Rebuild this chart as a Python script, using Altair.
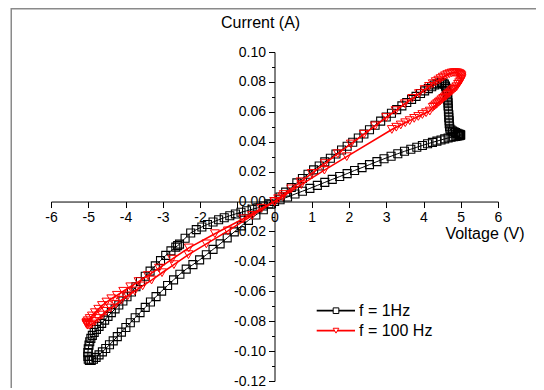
import altair as alt
import pandas as pd

# ---------------- data (V, I) ----------------
# f = 1 Hz
b_up_pos = [(0, 0), (0.15, 0.003), (0.3, 0.0063), (0.45, 0.0094), (0.6, 0.0125), (0.75, 0.0154),
            (0.9, 0.0183), (1.05, 0.0212), (1.2, 0.0238), (1.35, 0.0265), (1.5, 0.029), (1.65, 0.0318),
            (1.8, 0.0345), (1.95, 0.037), (2.1, 0.0397), (2.25, 0.0425), (2.4, 0.0452), (2.55, 0.048),
            (2.7, 0.051), (2.85, 0.0538), (3.0, 0.0565), (3.14, 0.059), (3.28, 0.0615), (3.42, 0.064),
            (3.55, 0.0662), (3.68, 0.0683), (3.8, 0.0703), (3.92, 0.0722), (4.03, 0.074), (4.13, 0.0755),
            (4.22, 0.0768), (4.3, 0.0779), (4.37, 0.0787), (4.43, 0.0793), (4.48, 0.0795)]
b_drop = [(4.52, 0.0793), (4.56, 0.0785), (4.59, 0.0772), (4.61, 0.0757), (4.63, 0.074), (4.64, 0.072),
          (4.65, 0.070), (4.65, 0.068), (4.66, 0.066), (4.66, 0.064), (4.67, 0.062), (4.67, 0.060),
          (4.68, 0.058), (4.68, 0.056), (4.69, 0.054), (4.69, 0.052), (4.70, 0.050), (4.71, 0.0485),
          (4.74, 0.0478), (4.78, 0.0472), (4.82, 0.0466), (4.86, 0.0461), (4.9, 0.0456), (4.94, 0.0452),
          (4.97, 0.0449), (4.99, 0.0447), (5.0, 0.0445)]
b_low_pos = [(4.99, 0.0443), (4.96, 0.0441), (4.92, 0.0439), (4.87, 0.0436), (4.81, 0.0433), (4.74, 0.043),
             (4.66, 0.0425), (4.57, 0.0419), (4.47, 0.0412), (4.36, 0.0404), (4.24, 0.0396), (4.11, 0.0386),
             (3.97, 0.0375), (3.82, 0.0363), (3.66, 0.035), (3.49, 0.0336), (3.31, 0.032), (3.13, 0.0303),
             (2.94, 0.0286), (2.75, 0.0267), (2.55, 0.0247), (2.35, 0.0227), (2.15, 0.0208), (1.95, 0.0187),
             (1.75, 0.0167), (1.55, 0.0148), (1.35, 0.0128), (1.15, 0.0108), (0.95, 0.0088), (0.75, 0.0069),
             (0.55, 0.005), (0.35, 0.003), (0.15, 0.0012), (0, 0)]
b_up_neg = [(-0.15, -0.0015), (-0.3, -0.003), (-0.45, -0.0042), (-0.6, -0.0052), (-0.75, -0.0062),
            (-0.9, -0.0072), (-1.05, -0.0083), (-1.2, -0.0095), (-1.35, -0.0108), (-1.5, -0.0122),
            (-1.65, -0.0137), (-1.8, -0.0153), (-1.95, -0.017), (-2.1, -0.0188), (-2.25, -0.021),
            (-2.4, -0.0245), (-2.55, -0.0285), (-2.6, -0.0295), (-2.65, -0.0305), (-2.78, -0.033),
            (-2.92, -0.036), (-3.06, -0.0395), (-3.2, -0.043), (-3.34, -0.0465), (-3.47, -0.05),
            (-3.6, -0.0535), (-3.72, -0.057), (-3.84, -0.0605), (-3.96, -0.0637), (-4.07, -0.0665),
            (-4.18, -0.0692), (-4.28, -0.0718), (-4.38, -0.0743), (-4.47, -0.0768), (-4.56, -0.0793),
            (-4.64, -0.0815), (-4.71, -0.0835), (-4.78, -0.0855), (-4.84, -0.0875), (-4.89, -0.0895),
            (-4.93, -0.0915), (-4.96, -0.0938), (-4.98, -0.096), (-5.0, -0.0985), (-5.01, -0.101),
            (-5.01, -0.1035), (-5.0, -0.1055)]
b_low_neg = [(-4.97, -0.1062), (-4.92, -0.1062), (-4.86, -0.1055), (-4.79, -0.1042), (-4.71, -0.1025),
             (-4.62, -0.1005), (-4.53, -0.0983), (-4.43, -0.0958), (-4.33, -0.0932), (-4.22, -0.0903),
             (-4.11, -0.0873), (-3.99, -0.0842), (-3.87, -0.081), (-3.74, -0.0777), (-3.61, -0.0743),
             (-3.47, -0.0708), (-3.33, -0.0672), (-3.18, -0.0636), (-3.03, -0.0599), (-2.87, -0.0561),
             (-2.71, -0.0524), (-2.54, -0.0486), (-2.37, -0.0452), (-2.19, -0.0422), (-2.01, -0.039),
             (-1.83, -0.0356), (-1.65, -0.032), (-1.46, -0.0283), (-1.27, -0.0243), (-1.08, -0.0203),
             (-0.89, -0.0163), (-0.7, -0.0126), (-0.5, -0.009), (-0.3, -0.0055), (-0.1, -0.0018), (0, 0)]

# f = 100 Hz
r_up_pos = [(0, 0), (0.1, 0.0019), (0.25, 0.0047), (0.45, 0.0085), (0.7, 0.0132), (1.0, 0.0188),
            (1.35, 0.0254), (1.7, 0.032), (2.05, 0.0385), (2.4, 0.045), (2.7, 0.0506), (3.0, 0.0562),
            (3.25, 0.0608), (3.5, 0.0654), (3.7, 0.069), (3.88, 0.0722), (4.03, 0.0749), (4.15, 0.077),
            (4.25, 0.0788), (4.33, 0.0802)]
r_arc = [(4.4, 0.0812), (4.46, 0.0822), (4.52, 0.0832), (4.58, 0.0841), (4.64, 0.0849), (4.7, 0.0855),
         (4.76, 0.086), (4.82, 0.0862), (4.87, 0.0862), (4.92, 0.086), (4.96, 0.0856), (4.99, 0.085),
         (5.01, 0.0843), (5.02, 0.0835), (5.02, 0.0826), (5.01, 0.0816), (4.99, 0.0806), (4.96, 0.0795),
         (4.93, 0.0784)]
r_band = [(4.89, 0.0768), (4.85, 0.0759), (4.81, 0.075), (4.77, 0.0742), (4.73, 0.0733), (4.69, 0.0724),
          (4.65, 0.0716), (4.61, 0.0707), (4.57, 0.0698), (4.53, 0.069), (4.49, 0.0681), (4.45, 0.0672),
          (4.41, 0.0664), (4.37, 0.0655), (4.33, 0.0647), (4.29, 0.0638), (4.25, 0.063)]
r_low_pos = [(4.17, 0.0605), (4.07, 0.0594), (3.97, 0.0582), (3.86, 0.0569), (3.75, 0.0556), (3.63, 0.0541),
             (3.51, 0.0527), (3.39, 0.0512), (3.27, 0.0497), (3.15, 0.0482), (1.94, 0.030), (1.34, 0.021),
             (0.72, 0.0113), (0.22, 0.0033), (0, 0)]
r_up_neg = [(-0.35, -0.0045), (-0.84, -0.0115), (-1.6, -0.0215), (-2.3, -0.031), (-2.75, -0.0385),
            (-3.1, -0.0445), (-3.4, -0.0495), (-3.65, -0.0535), (-3.87, -0.057), (-4.06, -0.06),
            (-4.23, -0.0627), (-4.38, -0.065), (-4.51, -0.0672), (-4.63, -0.0695), (-4.73, -0.072),
            (-4.82, -0.0743), (-4.9, -0.0765), (-4.96, -0.0782), (-5.01, -0.0797), (-5.04, -0.0807),
            (-5.05, -0.0815)]
r_low_neg = [(-5.04, -0.0822), (-5.01, -0.0827), (-4.96, -0.0826), (-4.9, -0.0819), (-4.82, -0.0802),
             (-4.73, -0.0782), (-4.63, -0.0759), (-4.52, -0.0734), (-4.4, -0.0712), (-4.26, -0.0687),
             (-4.11, -0.066), (-3.94, -0.063), (-3.75, -0.0598), (-3.54, -0.0564), (-3.3, -0.0525),
             (-3.02, -0.0476), (-2.7, -0.0422), (-2.31, -0.0355), (-1.83, -0.0283), (-1.25, -0.0196),
             (-0.6, -0.0093), (0, 0)]

series_names = ["f = 1Hz", "f = 100 Hz"]
series_colors = ["#000000", "#ff0000"]
series_shapes = ["square", "triangle-down"]

x_ticks = [-6, -5.5, -5, -4.5, -4, -3.5, -3, -2.5, -2, -1.5, -1, -0.5, 0,
           0.5, 1, 1.5, 2, 2.5, 3, 3.5, 4, 4.5, 5, 5.5, 6]
y_ticks = [-0.12, -0.11, -0.10, -0.09, -0.08, -0.07, -0.06, -0.05, -0.04, -0.03, -0.02, -0.01,
           0.0, 0.01, 0.02, 0.03, 0.04, 0.05, 0.06, 0.07, 0.08, 0.09, 0.10]
x_title = "Voltage (V)"
y_title = "Current (A)"

# ---------------- layout ----------------
W, H = 528, 380
X_DOM, Y_DOM = [-6, 6], [-0.12, 0.10]
X_RANGE = [43, 490]
Y_RANGE = [373, 44]
X0 = X_RANGE[0] + (0 - X_DOM[0]) / (X_DOM[1] - X_DOM[0]) * (X_RANGE[1] - X_RANGE[0])
Y0 = Y_RANGE[0] - (0 - Y_DOM[0]) / (Y_DOM[1] - Y_DOM[0]) * (Y_RANGE[0] - Y_RANGE[1])
FONT = "Liberation Sans"


def frame(pts):
    return pd.DataFrame({"V": [p[0] for p in pts], "I": [p[1] for p in pts], "k": list(range(len(pts)))})


df_1hz = frame(b_up_pos + b_drop + b_low_pos + b_up_neg + b_low_neg)
df_100hz = frame(r_up_pos + r_arc + r_band + r_low_pos + r_up_neg + r_low_neg)

x_axis = alt.Axis(
    orient="bottom", offset=Y0 - H, values=x_ticks, title=None, grid=False,
    domainColor="black", domainWidth=1, tickColor="black", tickWidth=1,
    tickSize={"condition": {"test": "datum.value % 1 == 0", "value": 6}, "value": 3},
    format="d",
    labelExpr="datum.value % 1 == 0 ? replace(datum.label, '\u2212', '-') : ''",
    labelFont=FONT, labelFontSize=14, labelColor="black", labelPadding=3,
    labelFlush=False, labelOverlap=False, labelBound=False,
)
y_axis = alt.Axis(
    orient="left", offset=-X0, values=y_ticks, title=None, grid=False,
    domainColor="black", domainWidth=1, tickColor="black", tickWidth=1,
    tickSize={"condition": {"test": "abs(round(datum.value*100)) % 2 == 0", "value": 6}, "value": 3},
    format=".2f",
    labelExpr="abs(round(datum.value*100)) % 2 == 0 ? replace(datum.label, '\u2212', '-') : ''",
    labelFont=FONT, labelFontSize=14, labelColor="black", labelPadding=3,
    labelFlush=False, labelOverlap=False, labelBound=False,
)
xenc = alt.X("V:Q", scale=alt.Scale(domain=X_DOM, range=X_RANGE, nice=False, zero=False), axis=x_axis)
yenc = alt.Y("I:Q", scale=alt.Scale(domain=Y_DOM, range=Y_RANGE, nice=False, zero=False), axis=y_axis)

layers = []
one = pd.DataFrame({"a": [0]})
# outer frame (top and left edges visible)
layers.append(alt.Chart(one).mark_rule(color="#8a8a8a", strokeWidth=1.5).encode(
    x=alt.value(3), x2=alt.value(W), y=alt.value(0.75)))
layers.append(alt.Chart(one).mark_rule(color="#8a8a8a", strokeWidth=1.5).encode(
    x=alt.value(3.25), y=alt.value(0), y2=alt.value(H)))

for df, col, shp, lw, sz, sw in [(df_1hz, series_colors[0], series_shapes[0], 1, 64, 1.1),
                                 (df_100hz, series_colors[1], series_shapes[1], 1.6, 80, 1)]:
    layers.append(alt.Chart(df).mark_line(color=col, strokeWidth=lw).encode(
        x=xenc, y=yenc, order="k:Q"))
    layers.append(alt.Chart(df).mark_point(shape=shp, filled=False, color=col, size=sz,
                                           strokeWidth=sw, opacity=1).encode(x=xenc, y=yenc))

# axis titles
layers.append(alt.Chart(one).mark_text(font=FONT, fontSize=16, align="center", baseline="middle",
                                       color="black").encode(
    x=alt.value(252.6), y=alt.value(15.3), text=alt.value(y_title)))
layers.append(alt.Chart(one).mark_text(font=FONT, fontSize=16, align="center", baseline="middle",
                                       color="black").encode(
    x=alt.value(477), y=alt.value(225.5), text=alt.value(x_title)))

# legend
for i, (name, col, shp) in enumerate(zip(series_names, series_colors, series_shapes)):
    ly = 302.7 + 20 * i
    layers.append(alt.Chart(one).mark_rule(color=col, strokeWidth=1.8).encode(
        x=alt.value(308.7), x2=alt.value(347), y=alt.value(ly)))
    layers.append(alt.Chart(one).mark_point(shape=shp, filled=True, fill="white", stroke=col,
                                            strokeWidth=1, size=32, opacity=1).encode(
        x=alt.value(328), y=alt.value(ly)))
    layers.append(alt.Chart(one).mark_text(font=FONT, fontSize=16, align="left", baseline="middle",
                                           color="black").encode(
        x=alt.value(351), y=alt.value(ly), text=alt.value(name)))

chart = alt.layer(*layers).properties(
    width=W, height=H, padding=0, autosize=alt.AutoSizeParams(type="none"),
    background="white",
).configure_view(stroke=None)

chart.save("out.html", embed_options={"renderer": "svg", "actions": False})
